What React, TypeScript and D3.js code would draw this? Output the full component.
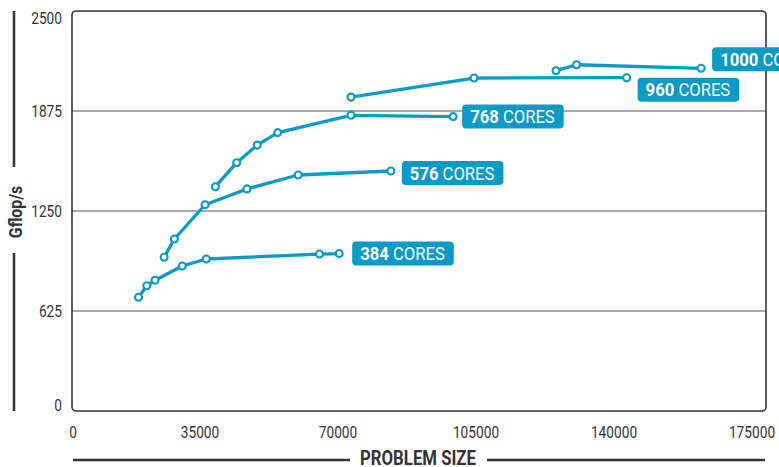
import React, { useEffect, useRef } from "react";
import * as d3 from "d3";

const W = 779;
const H = 467;

const coreCounts = [384, 576, 768, 960, 1000];
const sizes384 = [19400, 21500, 23600, 30500, 36600, 65300, 70300];
const gflops384 = [711, 783, 817, 906, 950, 981, 984];
const sizes576 = [25900, 28500, 36300, 46900, 59900, 83400];
const gflops576 = [961, 1075, 1289, 1388, 1475, 1500];
const sizes768 = [38900, 44300, 49500, 54700, 73300, 99200];
const gflops768 = [1402, 1552, 1662, 1740, 1848, 1840];
const sizes960 = [73300, 104500, 143200];
const gflops960 = [1962, 2081, 2083];
const sizes1000 = [125300, 130500, 162100];
const gflops1000 = [2127, 2164, 2142];

const xTicks = [0, 35000, 70000, 105000, 140000, 175000];
const yTicks = [0, 625, 1250, 1875, 2500];
const yTitle = "Gflop/s";
const xTitle = "PROBLEM SIZE";
const labelSuffix = " CORES";

// label nudges (layout only)
const labelDy = [0, 2, 0, 12, -9];
const labelDx = [13, 11, 9, 11, 11];

const BLUE = "#0a9ac6";
const INK = "#333333";
const FONT = "Roboto, 'Liberation Sans', sans-serif";

type Sel = d3.Selection<any, unknown, null, undefined>;

function addText(
  parent: Sel,
  x: number,
  y: number,
  str: string,
  opts: { size: number; weight?: string; anchor?: string; sx?: number; fill?: string; rotate?: number; dy?: string }
) {
  const g = parent
    .append("g")
    .attr(
      "transform",
      `translate(${x},${y})${opts.rotate ? ` rotate(${opts.rotate})` : ""} scale(${opts.sx ?? 1},1)`
    );
  const t = g
    .append("text")
    .attr("x", 0)
    .attr("y", 0)
    .attr("dy", opts.dy ?? "0")
    .attr("text-anchor", opts.anchor ?? "start")
    .attr("font-family", FONT)
    .attr("font-size", opts.size)
    .attr("font-weight", opts.weight ?? "normal")
    .attr("fill", opts.fill ?? INK)
    .text(str);
  return t;
}

export default function App() {
  const ref = useRef<SVGSVGElement | null>(null);

  useEffect(() => {
    const svg = d3.select(ref.current) as unknown as Sel;
    svg.selectAll("*").remove();

    const left = 72, right = 766, top = 11, bottom = 411;
    const x = d3.scaleLinear().domain([0, 175000]).range([62, 752]);
    const y = d3.scaleLinear().domain([0, 2500]).range([bottom, top]);

    const seriesX = [sizes384, sizes576, sizes768, sizes960, sizes1000];
    const seriesY = [gflops384, gflops576, gflops768, gflops960, gflops1000];

    // grid
    svg.append("g").selectAll("line")
      .data(yTicks.filter(t => t > 0 && t < 2500))
      .join("line")
      .attr("x1", left).attr("x2", right)
      .attr("y1", d => y(d)).attr("y2", d => y(d))
      .attr("stroke", "#555").attr("stroke-width", 1.2);

    // frame
    svg.append("rect")
      .attr("x", left).attr("y", top)
      .attr("width", right - left).attr("height", bottom - top)
      .attr("rx", 4)
      .attr("fill", "none").attr("stroke", INK).attr("stroke-width", 1.6);

    // y tick labels
    const gy = svg.append("g");
    yTicks.forEach(d => {
      const yy = Math.min(Math.max(y(d), top + 7), bottom - 6);
      addText(gy, 62, yy, String(d), { size: 16.5, anchor: "end", sx: 0.83, dy: "0.36em" });
    });

    // x tick labels
    const gx = svg.append("g");
    xTicks.forEach(d => {
      addText(gx, Math.max(x(d), left + 1), 437.5, String(d), { size: 16.5, anchor: "middle", sx: 0.83 });
    });

    // y title with split rule
    svg.append("line").attr("x1", 14).attr("x2", 14).attr("y1", top).attr("y2", 167)
      .attr("stroke", INK).attr("stroke-width", 2.5);
    svg.append("line").attr("x1", 14).attr("x2", 14).attr("y1", 253).attr("y2", bottom)
      .attr("stroke", INK).attr("stroke-width", 2.5);
    addText(svg, 22, 212, yTitle, { size: 18, weight: "bold", anchor: "middle", sx: 0.88, rotate: -90 });

    // x title with split rule
    svg.append("line").attr("x1", 73).attr("x2", 350).attr("y1", 460).attr("y2", 460)
      .attr("stroke", INK).attr("stroke-width", 2.3);
    svg.append("line").attr("x1", 487).attr("x2", 765).attr("y1", 460).attr("y2", 460)
      .attr("stroke", INK).attr("stroke-width", 2.3);
    addText(svg, 418, 465, xTitle, { size: 19.5, weight: "bold", anchor: "middle", sx: 0.86 });

    const line = d3.line<[number, number]>().x(d => x(d[0])).y(d => y(d[1]));

    const gSeries = svg.append("g");
    seriesX.forEach((xs, i) => {
      const pts: [number, number][] = xs.map((v, j) => [v, seriesY[i][j]]);
      gSeries.append("path")
        .attr("d", line(pts) as string)
        .attr("fill", "none").attr("stroke", BLUE).attr("stroke-width", 3.3)
        .attr("stroke-linejoin", "round");
      gSeries.append("g").selectAll("circle")
        .data(pts).join("circle")
        .attr("cx", d => x(d[0])).attr("cy", d => y(d[1]))
        .attr("r", 3.5)
        .attr("fill", "#fff").attr("stroke", BLUE).attr("stroke-width", 2.1);
    });

    // labels
    const gLab = svg.append("g");
    const sxLab = 0.9;
    seriesX.forEach((xs, i) => {
      const last = xs.length - 1;
      const px = x(xs[last]);
      const py = y(seriesY[i][last]) + labelDy[i];
      const g = gLab.append("g");
      const rect = g.append("rect").attr("fill", BLUE).attr("rx", 4);
      const tg = g.append("g").attr("transform", `translate(${px + labelDx[i] + 8},${py}) scale(${sxLab},1)`);
      const t = tg.append("text")
        .attr("x", 0).attr("y", 0)
        .attr("dy", "0.36em")
        .attr("font-family", FONT).attr("font-size", 18.5).attr("fill", "#fff");
      t.append("tspan").attr("font-weight", "bold").text(String(coreCounts[i]));
      t.append("tspan").text(labelSuffix);
      const w = (t.node() as SVGTextElement).getComputedTextLength() * sxLab;
      rect.attr("x", px + labelDx[i]).attr("y", py - 12)
        .attr("width", w + 17).attr("height", 24);
    });
  }, []);

  return (
    <svg
      ref={ref}
      width={W}
      height={H}
      style={{ position: "absolute", left: 0, top: 0, background: "#fff" }}
    />
  );
}
